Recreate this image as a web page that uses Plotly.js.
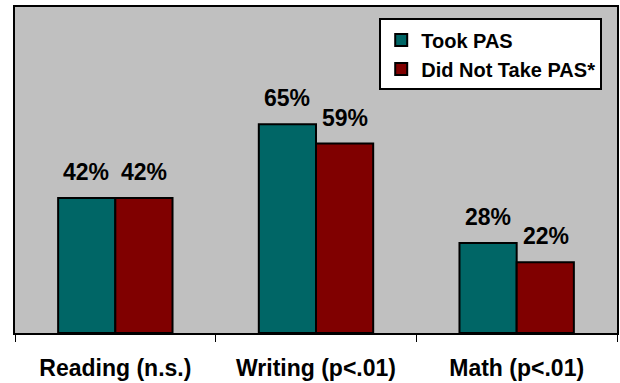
<!DOCTYPE html>
<html><head><meta charset="utf-8">
<script src="https://cdn.plot.ly/plotly-3.0.1.min.js"></script>
<style>html,body{margin:0;padding:0;background:#fff;}#chart{width:620px;height:383px;}</style>
</head><body><div id="chart"></div>
<script>
const categories = ["Reading (n.s.)", "Writing (p<.01)", "Math (p<.01)"];
const tookPAS = [42, 65, 28];
const didNotTakePAS = [42, 59, 22];
const seriesNames = ["Took PAS", "Did Not Take PAS*"];

const font = "'Liberation Sans', Arial, sans-serif";
const traces = [
  {type:"bar", name:seriesNames[0], x:categories, y:tookPAS,
   marker:{color:"#006666", line:{color:"#000", width:2}}},
  {type:"bar", name:seriesNames[1], x:categories, y:didNotTakePAS,
   marker:{color:"#800000", line:{color:"#000", width:2}}}
];
const annotations = [];
[tookPAS, didNotTakePAS].forEach((vals, si) => {
  vals.forEach((v, i) => {
    annotations.push({x:categories[i], y:v, xref:"x", yref:"y", text:"<b>"+v+"%</b>",
      showarrow:false, xshift: si===0 ? -29 : 29, yshift:26,
      font:{family:font, size:23, color:"#000"}});
  });
});
const layout = {
  width:620, height:383,
  margin:{l:15, r:3, t:7, b:50},
  paper_bgcolor:"#fff", plot_bgcolor:"#C0C0C0",
  barmode:"group", bargap:0.43, bargroupgap:0,
  showlegend:true,
  legend:{x:0.605, y:0.965, xanchor:"left", yanchor:"top", bgcolor:"#fff",
    bordercolor:"#000", borderwidth:2, font:{family:font, size:20, color:"#000", weight:"bold"},
    itemwidth:30},
  xaxis:{type:"category", showline:true, linecolor:"#000", linewidth:2, mirror:true,
    ticks:"outside", tickson:"boundaries", ticklen:7, tickcolor:"#000", tickwidth:1,
    ticklabelstandoff:13,
    tickfont:{family:font, size:23, color:"#000", weight:"bold"}, showgrid:false},
  yaxis:{range:[0,101.5], showline:true, linecolor:"#000", linewidth:2, mirror:true,
    showticklabels:false, showgrid:false, zeroline:false, ticks:""},
  annotations:annotations
};
Plotly.newPlot("chart", traces, layout, {displayModeBar:false, staticPlot:true});
</script></body></html>
